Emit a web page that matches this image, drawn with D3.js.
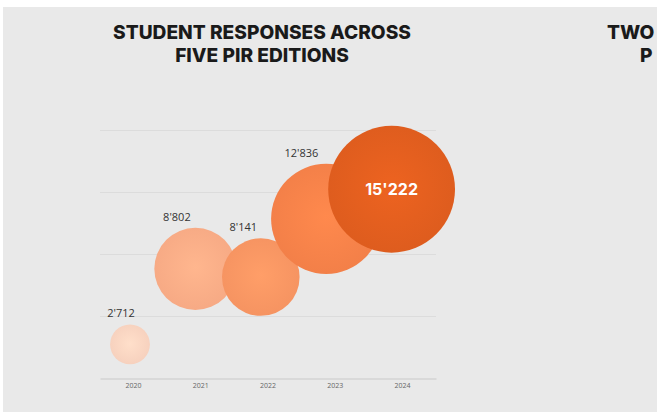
<!DOCTYPE html>
<html><head><meta charset="utf-8">
<script src="https://cdn.jsdelivr.net/npm/d3@7"></script>
<style>html,body{margin:0;padding:0;background:#fff;overflow:hidden}</style>
</head><body><svg id="c" width="657" height="412"></svg>
<script>
const years = ["2020", "2021", "2022", "2023", "2024"];
const responses = [2712, 8802, 8141, 12836, 15222];
const colors = ["#fdd6c2", "#fdae88", "#fc9764", "#f9834a", "#e35f1f"];
const yTicks = [5000, 10000, 15000, 20000];
const titleLines = ["STUDENT RESPONSES ACROSS", "FIVE PIR EDITIONS"];
const nextTitleLines = ["TWO", "P"];

const svg = d3.select("#c");
svg.append("rect").attr("x", 3).attr("y", 7).attr("width", 700).attr("height", 420).attr("fill", "#e9e9e9");

const x = d3.scaleBand().domain(years).range([100, 436]);
const xb = d3.scalePoint().domain(years).range([130, 391.6]);
const y = d3.scaleLinear().domain([0, 20000]).range([378, 130]);
const r = d3.scaleLinear().domain([0, 20000]).range([10.5, 80]);
const fmt = v => d3.format(",")(v).replace(/,/g, "'");

// title
const tFont = "Inter, 'Open Sans', sans-serif";
const title = svg.append("g");
titleLines.forEach((t, i) => {
  title.append("text").attr("x", 262).attr("y", 39 + i * 22.5)
    .attr("text-anchor", "middle").attr("font-family", tFont)
    .attr("font-weight", 800).attr("font-size", 18).attr("fill", "#1a1a1a").text(t);
});
const w0 = title.select("text").node().getComputedTextLength();
const fs = 18 * 298 / w0;
title.selectAll("text").attr("font-size", fs);
nextTitleLines.forEach((t, i) => {
  svg.append("text").attr("x", i === 0 ? 607 : 640).attr("y", 39 + i * 22.5)
    .attr("font-family", tFont).attr("font-weight", 800).attr("font-size", fs)
    .attr("fill", "#1a1a1a").text(t);
});

// grid
svg.append("g").selectAll("line").data(yTicks).join("line")
  .attr("x1", 100).attr("x2", 436)
  .attr("y1", d => Math.round(y(d)) + 0.5).attr("y2", d => Math.round(y(d)) + 0.5)
  .attr("stroke", "#dcdcdc").attr("stroke-width", 1);

// axis
const ax = svg.append("g").attr("transform", "translate(0,378.5)")
  .call(d3.axisBottom(x).tickSize(0).tickPadding(5));
ax.select(".domain").attr("stroke", "#c9c9c9");
ax.selectAll("text").attr("font-family", "'Open Sans', sans-serif").attr("font-size", 7).attr("fill", "#666");

// gradients
const defs = svg.append("defs");
colors.forEach((c, i) => {
  const g = defs.append("radialGradient").attr("id", "g" + i).attr("cx", "50%").attr("cy", "48%").attr("r", "55%");
  g.append("stop").attr("offset", "0%").attr("stop-color", d3.color(c).brighter(0.12));
  g.append("stop").attr("offset", "100%").attr("stop-color", d3.color(c).darker(0.08));
});

const data = years.map((yr, i) => ({ yr, v: responses[i], i }));
const maxV = d3.max(responses);

svg.append("g").selectAll("circle").data(data).join("circle")
  .attr("cx", d => xb(d.yr)).attr("cy", d => y(d.v)).attr("r", d => r(d.v))
  .attr("fill", d => `url(#g${d.i})`);

// labels
svg.append("g").selectAll("text").data(data).join("text")
  .attr("x", d => d.v === maxV ? xb(d.yr) : xb(d.yr) - r(d.v) * 0.45)
  .attr("y", d => d.v === maxV ? y(d.v) + 5.5 : y(d.v) - r(d.v) - 7)
  .attr("text-anchor", "middle")
  .attr("font-family", d => d.v === maxV ? tFont : "'Open Sans', sans-serif")
  .attr("font-weight", d => d.v === maxV ? 700 : 400)
  .attr("font-size", d => d.v === maxV ? 16 : 11)
  .attr("fill", d => d.v === maxV ? "#fff" : "#333")
  .text(d => fmt(d.v));
</script></body></html>
